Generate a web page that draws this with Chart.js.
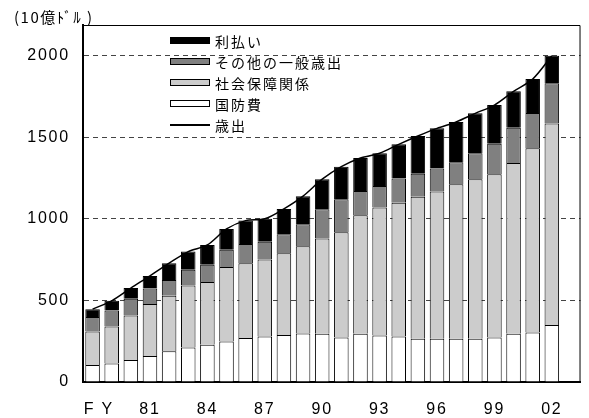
<!DOCTYPE html>
<html>
<head>
<meta charset="utf-8">
<script src="https://cdn.jsdelivr.net/npm/chart.js@4"></script>
<style>
  body { margin: 0; background: #fff; }
  #wrap { position: relative; width: 589px; height: 418px; }
  #unit { position: absolute; left: 14px; top: 6px; font: 15px 'Noto Sans CJK JP'; letter-spacing: 1.5px; color: #000; }
  #legend { position: absolute; left: 170px; top: 30px; font: 14px 'Noto Sans CJK JP'; letter-spacing: 2px; color: #000; }
  .row { display: flex; align-items: center; height: 21px; }
  .sw { width: 38px; height: 5px; border: 1px solid #000; margin-right: 5px; }
  .ln { width: 40px; height: 0; border-top: 2px solid #000; margin-right: 5px; }
</style>
</head>
<body>
<div id="wrap">
  <canvas id="myChart"></canvas>
  <div id="unit">(10億ﾄﾞﾙ )</div>
  <div id="legend"></div>
</div>
<script>
// fiscal years, last slot left empty
const categories = ['F Y','79','80','81','82','83','84','85','86','87','88','89','90','91','92','93','94','95','96','97','98','99','00','01','02','03'];
const yTicks = [0, 500, 1000, 1500, 2000];

// 10億ドル, bottom to top
const defense  = [104,114,135,159,188,212,229,249,270,279,288,297,296,273,296,286,279,265,265,265,265,273,296,304,349];
const social   = [206,227,273,319,341,380,384,456,459,472,502,536,584,646,727,784,820,872,903,948,979,1001,1048,1130,1236];
const other    = [88,98,102,96,96,96,106,106,118,109,117,135,180,202,149,133,149,141,141,135,159,188,216,216,247];
const interest = [49,59,66,77,104,112,122,128,143,141,155,172,184,200,202,200,210,231,247,247,245,237,223,208,169];
const outlays  = [447,498,576,651,729,800,841,939,990,1001,1062,1140,1244,1321,1374,1403,1458,1509,1556,1595,1648,1699,1783,1858,2001];

const barNames = ['国防費', '社会保障関係', 'その他の一般歳出', '利払い'];
const barColors = ['#ffffff', '#cccccc', '#808080', '#000000'];
const lineName = '歳出';

const barData = [defense, social, other, interest];

const frame = {
    id: 'frame',
    beforeDraw(chart) {
        chart.ctx.letterSpacing = '1.8px';
    },
    afterDraw(chart) {
        const { ctx, chartArea: a } = chart;
        ctx.save();
        ctx.strokeStyle = '#000';
        ctx.lineWidth = 1;
        ctx.beginPath();
        ctx.moveTo(a.left, a.top + 0.5);
        ctx.lineTo(a.right - 0.5, a.top + 0.5);
        ctx.lineTo(a.right - 0.5, a.bottom);
        ctx.stroke();
        ctx.restore();
    }
};

const datasets = barData.map((d, i) => ({
    type: 'bar',
    label: barNames[i],
    data: d,
    backgroundColor: barColors[i],
    borderColor: '#000',
    borderWidth: 1,
    barPercentage: 0.76,
    categoryPercentage: 1,
    order: 1
}));

datasets.push({
    type: 'line',
    label: lineName,
    data: outlays,
    borderColor: '#000',
    borderWidth: 1.5,
    pointRadius: 0,
    tension: 0.3,
    fill: false,
    order: 2
});

const tickFont = { family: "'Liberation Sans', Arial, sans-serif", size: 16 };

new Chart(document.querySelector('#myChart'), {
    data: { labels: categories, datasets: datasets },
    options: {
        responsive: true,
        maintainAspectRatio: false,
        animation: false,
        layout: { padding: { top: 25, right: 2, left: 0, bottom: 0 } },
        plugins: { legend: { display: false }, tooltip: { enabled: false } },
        scales: {
            x: {
                stacked: true,
                grid: { display: false, drawTicks: false },
                border: { color: '#000', width: 2 },
                ticks: {
                    autoSkip: false,
                    maxRotation: 0,
                    color: '#000',
                    font: tickFont,
                    padding: 18,
                    callback: (v, i) => (i === 0 ? '  ' + categories[0] : i % 3 === 0 ? categories[i] : '')
                },
                afterFit: s => { s.height = 36; }
            },
            y: {
                stacked: true,
                min: 0,
                max: 2190,
                afterBuildTicks: s => { s.ticks = yTicks.map(v => ({ value: v })); },
                ticks: { color: '#000', font: tickFont, padding: 13, callback: v => String(v) },
                grid: {
                    color: c => (c.tick && c.tick.value === 0 ? 'rgba(0,0,0,0)' : '#444'),
                    lineWidth: 1,
                    drawTicks: false
                },
                border: { color: '#000', width: 2, dash: [5, 4] },
                afterFit: s => { s.width = 83; }
            }
        }
    },
    plugins: [frame]
});

// legend, top to bottom
const legend = document.getElementById('legend');
for (let i = barNames.length - 1; i >= 0; i--) {
    legend.insertAdjacentHTML('beforeend',
        `<div class="row"><div class="sw" style="background:${barColors[i]}"></div><span>${barNames[i]}</span></div>`);
}
legend.insertAdjacentHTML('beforeend', `<div class="row"><div class="ln"></div><span>${lineName}</span></div>`);
</script>
</body>
</html>
